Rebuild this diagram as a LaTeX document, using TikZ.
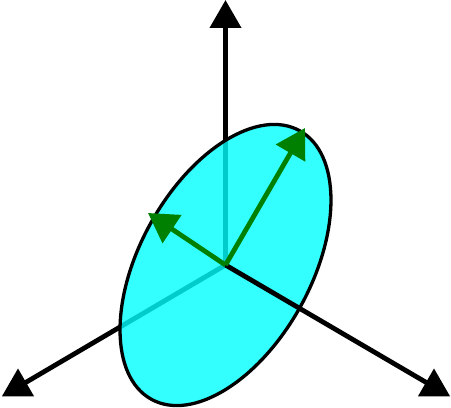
\documentclass[tikz,border=0pt]{standalone}
\usetikzlibrary{arrows.meta,shapes.geometric}
\definecolor{vecgreen}{RGB}{0,128,0}
\definecolor{disccyan}{RGB}{0,255,255}
\begin{document}
\begin{tikzpicture}[x=1pt,y=-1pt,
  axis/.style={line width=4.8pt,black},
  marker/.style={regular polygon,regular polygon sides=3,fill=black,inner sep=0pt,minimum size=37pt},
  vec/.style={line width=4.8pt,vecgreen,-{Triangle[length=29pt,width=33pt]}},
  disc/.style={fill=disccyan,fill opacity=0.8,draw=black,line width=3.3pt}]
\fill[white] (0,0) rectangle (451,408);
\useasboundingbox (0,0) rectangle (451,408);
\coordinate (O) at (225.5,265);
\coordinate (zend) at (225.5,18.7);
\coordinate (xend) at (18,387);
\coordinate (yend) at (434,387);
\coordinate (v1) at (305,128);
\coordinate (v2) at (148,213);
\draw[axis] (O) -- (zend);
\draw[axis] (O) -- (xend);
\draw[disc,shift={(O)},rotate=61.1] (0,0) ellipse[x radius=153.4,y radius=85.7];
\draw[axis] (O) -- (yend);
\node[marker] (zm) at (zend) {};
\node[marker] (xm) at (xend) {};
\node[marker] (ym) at (yend) {};
\draw[vec] (O) -- (v1);
\draw[vec] (O) -- (v2);
\end{tikzpicture}
\end{document}
